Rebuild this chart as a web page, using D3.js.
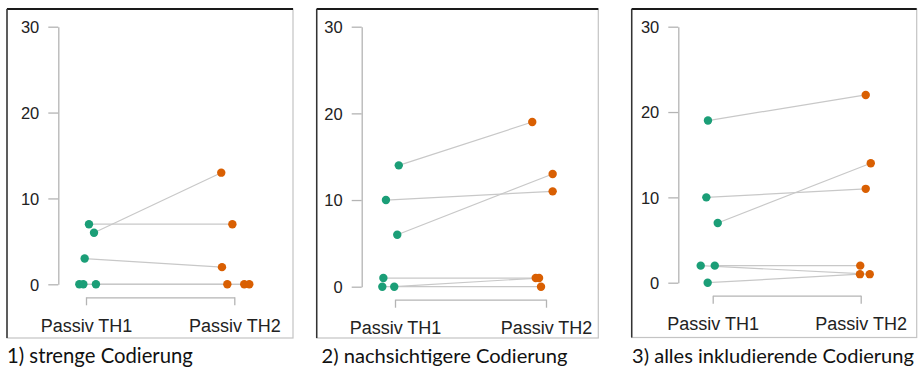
<!DOCTYPE html>
<html lang="de">
<head>
  <meta charset="UTF-8">
  <title>Passiv TH1 vs TH2</title>
  <script src="https://d3js.org/d3.v7.min.js"></script>
  <style>
    body { margin: 0; background: #fff; }
    .tick-y { font: 16.5px 'Liberation Sans', Arial, sans-serif; fill: #222; }
    .tick-x { font: 18px 'Liberation Sans', Arial, sans-serif; fill: #222; }
    .caption { font-family: Lato, 'Noto Sans', sans-serif; fill: #111; }
    .axis-line { stroke: #b4b4b4; stroke-width: 1.3; fill: none; }
    .pair { stroke: #c8c8c8; stroke-width: 1.2; }
  </style>
</head>
<body>
  <svg width="921" height="369"></svg>
  <script>
    const conditions = ["Passiv TH1", "Passiv TH2"];
    const yTicks = [0, 10, 20, 30];
    const captions = ["1) strenge Codierung", "2) nachsichtigere Codierung", "3) alles inkludierende Codierung"];

    // values per person, TH1 and TH2 paired by index
    const strengTH1 = [7, 6, 3, 0, 0, 0];
    const strengTH2 = [7, 13, 2, 0, 0, 0];
    const nachsichtigTH1 = [14, 10, 6, 1, 0, 0];
    const nachsichtigTH2 = [19, 11, 13, 1, 0, 1];
    const allesTH1 = [19, 10, 7, 2, 2, 0];
    const allesTH2 = [22, 11, 14, 1, 2, 1];

    // horizontal jitter of the dots, in units of the distance between the two conditions
    const strengJit1 = [0.020, 0.054, -0.009, -0.045, -0.018, 0.067];
    const strengJit2 = [-0.013, -0.088, -0.083, -0.047, 0.067, 0.101];
    const nachsichtigJit1 = [0.025, -0.060, 0.015, -0.077, -0.084, -0.005];
    const nachsichtigJit2 = [-0.091, 0.044, 0.044, -0.068, -0.033, -0.046];
    const allesJit1 = [-0.032, -0.043, 0.034, -0.081, 0.014, -0.034];
    const allesJit2 = [0.034, 0.034, 0.068, 0.061, -0.003, -0.005];

    const green = "#1b9e77", orange = "#d95f02";

    const panels = [
      { th1: strengTH1, th2: strengTH2, j1: strengJit1, j2: strengJit2,
        frame: [7, 9, 293, 338], axisX: 58.3, y0: 284.3, y30: 26.7, xs: [86, 234.3], cap: [7, 363, 186] },
      { th1: nachsichtigTH1, th2: nachsichtigTH2, j1: nachsichtigJit1, j2: nachsichtigJit2,
        frame: [316.7, 9, 598.3, 338], axisX: 361.7, y0: 286.7, y30: 26.7, xs: [395, 546], cap: [321.5, 363, 246] },
      { th1: allesTH1, th2: allesTH2, j1: allesJit1, j2: allesJit2,
        frame: [631.7, 9, 916.7, 337.5], axisX: 678.3, y0: 282.7, y30: 26.7, xs: [712.7, 860.7], cap: [632, 363, 282] }
    ];

    const svg = d3.select("svg");

    panels.forEach((p, i) => {
      const g = svg.append("g");
      const [fx0, fy0, fx1, fy1] = p.frame;

      // screenshot frame: light box, dark top and left edge
      g.append("rect")
        .attr("x", fx0).attr("y", fy0)
        .attr("width", fx1 - fx0).attr("height", fy1 - fy0)
        .attr("fill", "#fff").attr("stroke", "#c4c4c4").attr("stroke-width", 1.2);
      g.append("line").attr("x1", fx0).attr("x2", fx1).attr("y1", fy0).attr("y2", fy0)
        .attr("stroke", "#1a1a1a").attr("stroke-width", 2);
      g.append("line").attr("x1", fx0).attr("x2", fx0).attr("y1", fy0).attr("y2", fy1)
        .attr("stroke", "#333").attr("stroke-width", 1.5);

      const y = d3.scaleLinear().domain([0, 30]).range([p.y0, p.y30]);
      const x = d3.scaleLinear().domain([0, 1]).range(p.xs);

      // y axis
      const yAxis = g.append("g")
        .attr("transform", `translate(${p.axisX},0)`)
        .call(d3.axisLeft(y).tickValues(yTicks).tickSize(10).tickSizeOuter(0).tickPadding(9));
      yAxis.select(".domain").attr("class", "axis-line");
      yAxis.selectAll(".tick line").attr("class", "axis-line");
      yAxis.selectAll(".tick text").attr("class", "tick-y").attr("dy", "0.36em");

      // x axis as bracket between the two conditions
      const xAxis = g.append("g")
        .attr("transform", `translate(0,${p.y0 + 13})`)
        .call(d3.axisBottom(x).tickValues([0, 1]).tickFormat(d => conditions[d])
          .tickSize(8).tickSizeOuter(0).tickPadding(14));
      xAxis.select(".domain").attr("class", "axis-line");
      xAxis.selectAll(".tick line").attr("class", "axis-line");
      xAxis.selectAll(".tick text").attr("class", "tick-x");

      const pairs = p.th1.map((v, k) => ({ a: v, b: p.th2[k], ja: p.j1[k], jb: p.j2[k] }));

      g.selectAll(".pair").data(pairs).join("line")
        .attr("class", "pair")
        .attr("x1", d => x(0 + d.ja)).attr("y1", d => y(d.a))
        .attr("x2", d => x(1 + d.jb)).attr("y2", d => y(d.b));

      g.selectAll(".dot1").data(pairs).join("circle")
        .attr("class", "dot1")
        .attr("cx", d => x(0 + d.ja)).attr("cy", d => y(d.a))
        .attr("r", 4.2).attr("fill", green);

      g.selectAll(".dot2").data(pairs).join("circle")
        .attr("class", "dot2")
        .attr("cx", d => x(1 + d.jb)).attr("cy", d => y(d.b))
        .attr("r", 4.2).attr("fill", orange);

      // caption under the panel, font size fitted to the caption's width
      const cap = svg.append("text")
        .attr("class", "caption")
        .attr("x", p.cap[0]).attr("y", p.cap[1])
        .style("font-size", "20px")
        .text(captions[i]);
      const w = cap.node().getComputedTextLength();
      cap.style("font-size", (20 * p.cap[2] / w).toFixed(2) + "px");
    });
  </script>
</body>
</html>
